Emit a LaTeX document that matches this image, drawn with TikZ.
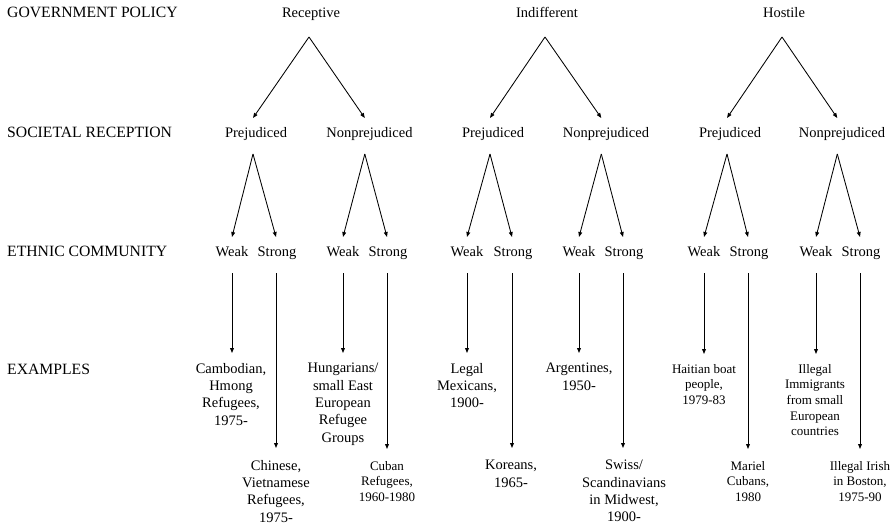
\documentclass[tikz,border=0pt]{standalone}
\usepackage{fontspec}
\setmainfont{Liberation Serif}
\usetikzlibrary{arrows.meta}
\begin{document}
\begin{tikzpicture}[x=1pt,y=-1pt,
  lab/.style={anchor=base west, inner sep=0pt, font=\fontsize{15.7}{18}\selectfont},
  lvl/.style={anchor=base, inner sep=0pt, font=\fontsize{14.5}{17.3}\selectfont},
  ex/.style={anchor=north, inner sep=0pt, align=center, font=\fontsize{14.5}{17.3}\selectfont},
  exs/.style={anchor=north, inner sep=0pt, align=center, font=\fontsize{13}{15.6}\selectfont},
  arr/.style={-{Triangle[length=5pt,width=3.8pt]}, line width=0.85pt}]

\useasboundingbox (0,0) rectangle (893,524);

% row labels
\node[lab] (gp)  at (7,18)  {GOVERNMENT POLICY};
\node[lab] (sr)  at (7,137) {SOCIETAL RECEPTION};
\node[lab] (ec)  at (7,256) {ETHNIC COMMUNITY};
\node[lab] (exl) at (7,374) {EXAMPLES};

% government policy
\node[lvl] (rec) at (311,18) {Receptive};
\node[lvl] (ind) at (547,18) {Indifferent};
\node[lvl] (hos) at (784,18) {Hostile};

% societal reception
\node[lvl] (rp) at (256,137)   {Prejudiced};
\node[lvl] (rn) at (369.5,137) {Nonprejudiced};
\node[lvl] (ip) at (493,137)   {Prejudiced};
\node[lvl] (in) at (606,137)   {Nonprejudiced};
\node[lvl] (hp) at (730,137)   {Prejudiced};
\node[lvl] (hn) at (842,137)   {Nonprejudiced};

% ethnic community
\node[lvl] (rpw) at (232,256) {Weak};
\node[lvl] (rps) at (277,256) {Strong};
\node[lvl] (rnw) at (343,256) {Weak};
\node[lvl] (rns) at (388,256) {Strong};
\node[lvl] (ipw) at (467,256) {Weak};
\node[lvl] (ips) at (513,256) {Strong};
\node[lvl] (inw) at (579,256) {Weak};
\node[lvl] (ins) at (624,256) {Strong};
\node[lvl] (hpw) at (704,256) {Weak};
\node[lvl] (hps) at (749,256) {Strong};
\node[lvl] (hnw) at (816,256) {Weak};
\node[lvl] (hns) at (861,256) {Strong};

% examples
\node[ex]  (e1) at (231,363) {Cambodian,\\Hmong\\Refugees,\\1975-};
\node[ex]  (e2) at (276,460) {Chinese,\\Vietnamese\\Refugees,\\1975-};
\node[ex]  (e3) at (343,363) {Hungarians/\\small East\\European\\Refugee\\Groups};
\node[exs] (e4) at (387,461) {Cuban\\Refugees,\\1960-1980};
\node[ex]  (e5) at (467,363) {Legal\\Mexicans,\\1900-};
\node[ex]  (e6) at (511,460) {Koreans,\\1965-};
\node[ex]  (e7) at (579,363) {Argentines,\\1950-};
\node[ex]  (e8) at (624,460) {Swiss/\\Scandinavians\\in Midwest,\\1900-};
\node[exs] (e9) at (704,364) {Haitian boat\\people,\\1979-83};
\node[exs] (e10) at (748,461) {Mariel\\Cubans,\\1980};
\node[exs] (e11) at (815,364) {Illegal\\Immigrants\\from small\\European\\countries};
\node[exs] (e12) at (860,461) {Illegal Irish\\in Boston,\\1975-90};

% policy -> reception
\foreach \a/\b/\c in {rec/rp/rn, ind/ip/in, hos/hp/hn}{
  \draw[arr] ([xshift=-2pt,yshift=-19pt]\a.base) -- ([xshift=-3pt,yshift=19pt]\b.base);
  \draw[arr] ([xshift=-2pt,yshift=-19pt]\a.base) -- ([xshift=-4.7pt,yshift=19pt]\c.base);
}

% reception -> community
\foreach \a/\sh/\w/\s in {rp/-3/rpw/rps, rn/-4.7/rnw/rns, ip/-3/ipw/ips, in/-4.7/inw/ins, hp/-3/hpw/hps, hn/-4.7/hnw/hns}{
  \draw[arr] ([xshift=\sh pt,yshift=-17pt]\a.base) -- ([yshift=19pt]\w.base);
  \draw[arr] ([xshift=\sh pt,yshift=-17pt]\a.base) -- ([xshift=-1pt,yshift=19pt]\s.base);
}

% community -> examples
\foreach \w/\s/\ew/\es in {rpw/rps/e1/e2, rnw/rns/e3/e4, ipw/ips/e5/e6, inw/ins/e7/e8, hpw/hps/e9/e10, hnw/hns/e11/e12}{
  \draw[arr] ([yshift=-17pt]\w.base) -- ([yshift=10pt]\w.base |- \ew.north);
  \draw[arr] ([xshift=-1pt,yshift=-17pt]\s.base) -- ([xshift=-1pt,yshift=12pt]\s.base |- \es.north);
}
\end{tikzpicture}
\end{document}
